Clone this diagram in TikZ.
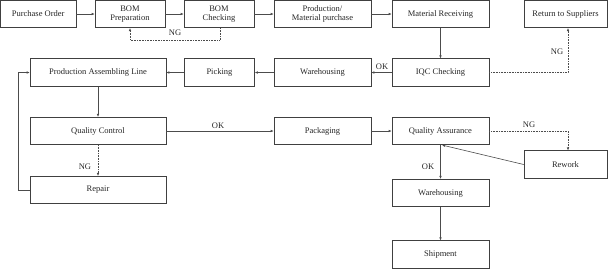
\documentclass[tikz,border=0pt]{standalone}
\usepackage{fontspec}
\setmainfont{Liberation Serif}
\usetikzlibrary{arrows.meta}
\begin{document}
\begin{tikzpicture}[x=1pt,y=-1pt,
  box/.style={draw=black!75,line width=0.6pt,rectangle,inner sep=0pt,minimum height=27.5pt,align=center,font=\fontsize{8.5}{9.5}\selectfont,text=black!85},
  conn/.style={draw=black!70,line width=0.6pt,-{Latex[length=3pt,width=2.6pt]}},
  dconn/.style={conn,densely dotted},
  lbl/.style={font=\fontsize{8.5}{9.5}\selectfont,text=black!85,inner sep=0pt}]
\useasboundingbox (0,0) rectangle (608,269);
\node[box,minimum width=75.5pt] (po) at (38.2,14) {Purchase Order};
\node[box,minimum width=70pt] (bomp) at (130,14) {BOM\\Preparation};
\node[box,minimum width=70pt] (bomc) at (219,14) {BOM\\Checking};
\node[box,minimum width=97pt] (pmp) at (322.5,14) {Production/\\Material purchase};
\node[box,minimum width=97pt] (mr) at (440.5,14) {Material Receiving};
\node[box,minimum width=83pt] (rts) at (565.5,14) {Return to Suppliers};
\node[box,minimum width=136pt] (pal) at (98,72.5) {Production Assembling Line};
\node[box,minimum width=70pt] (pick) at (219.5,72.5) {Picking};
\node[box,minimum width=97pt] (wh1) at (322.5,72.5) {Warehousing};
\node[box,minimum width=97pt] (iqc) at (440.5,72.5) {IQC Checking};
\node[box,minimum width=136pt] (qc) at (98,131) {Quality Control};
\node[box,minimum width=97pt] (pack) at (322.5,131) {Packaging};
\node[box,minimum width=97pt] (qa) at (440.5,131) {Quality Assurance};
\node[box,minimum width=83pt] (rew) at (565.5,164.5) {Rework};
\node[box,minimum width=136pt] (rep) at (98,190) {Repair};
\node[box,minimum width=97pt] (wh2) at (440.5,193) {Warehousing};
\node[box,minimum width=97pt] (ship) at (440.5,254.5) {Shipment};
\coordinate (bomcn) at (220,40);
\coordinate (rtsn) at (568,14);
\coordinate (repl) at (18,190);
% connectors
\draw[conn] (po) -- (bomp);
\draw[conn] (bomp) -- (bomc);
\draw[conn] (bomc) -- (pmp);
\draw[conn] (pmp) -- (mr);
\draw[dconn] (bomc.south -| bomcn) -- (bomcn) -| (bomp.south);
\node[lbl] (ng1) at (175,33) {NG};
\draw[conn] (mr) -- (iqc);
\draw[conn] (iqc) -- (wh1);
\node[lbl] (ok1) at (382,66.5) {OK};
\draw[dconn] (iqc.east) -| (rtsn |- rts.south);
\node[lbl] (ng2) at (557,52) {NG};
\draw[conn] (wh1) -- (pick);
\draw[conn] (pick) -- (pal);
\draw[conn] (pal) -- (qc);
\draw[conn] (qc) -- (pack);
\node[lbl] (ok2) at (218,126) {OK};
\draw[dconn] (qc) -- (rep);
\node[lbl] (ng3) at (85,167) {NG};
\draw[conn] (rep.west) -- (repl) |- (pal.west);
\draw[conn] (pack) -- (qa);
\draw[dconn] (qa.east) -| ([xshift=2.5pt]rew.north);
\node[lbl] (ng4) at (529,125) {NG};
\draw[conn] (rew.west) -- ([xshift=1.5pt]qa.south);
\draw[conn] (qa) -- (wh2);
\node[lbl] (ok3) at (428,167) {OK};
\draw[conn] (wh2) -- (ship);
\end{tikzpicture}
\end{document}
